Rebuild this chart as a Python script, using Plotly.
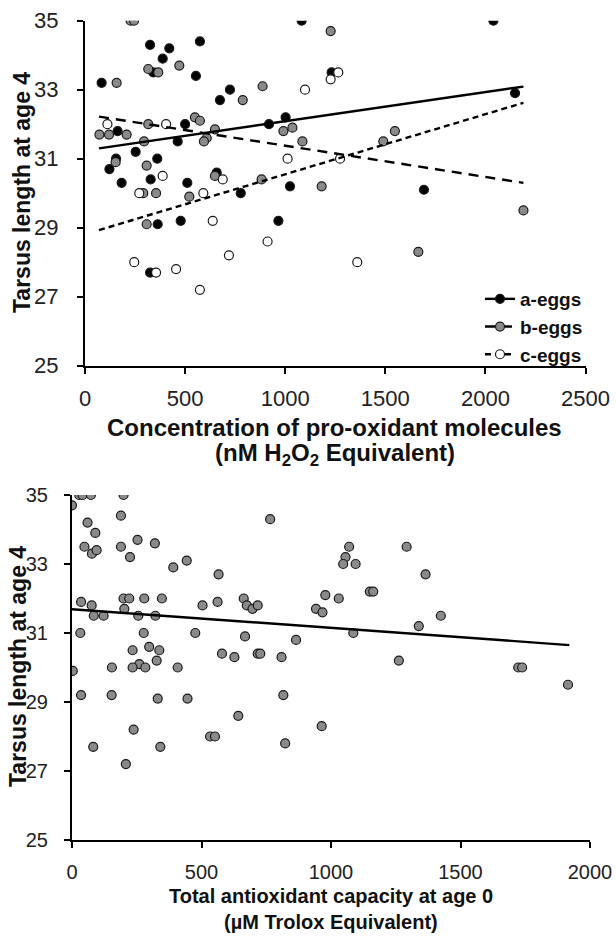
import plotly.graph_objects as go

# ---------------- Top panel data (pro-oxidant molecules) ----------------
a_x = [83, 325, 421, 388, 574, 341, 554, 1082, 724, 674, 163, 500, 463, 919, 1002,
       253, 155, 122, 361, 183, 328, 511, 658, 778, 1024, 363, 478, 966, 325, 1232,
       2040, 2148, 1693]
a_y = [33.2, 34.3, 34.2, 33.9, 34.4, 33.5, 33.4, 35.0, 33.0, 32.7, 31.8, 32.0, 31.5, 32.0, 32.2,
       31.2, 31.0, 30.7, 31.0, 30.3, 30.4, 30.3, 30.6, 30.0, 30.2, 29.1, 29.2, 29.2, 27.7, 33.5,
       35.0, 32.9, 30.1]

b_x = [228, 245, 158, 316, 366, 471, 887, 788, 1227, 72, 120, 208, 316, 549, 574,
       295, 608, 594, 649, 991, 1036, 1086, 153, 308, 649, 882, 1182, 291, 355, 521,
       308, 1548, 1490, 2190, 1665]
b_y = [35.0, 35.0, 33.2, 33.6, 33.5, 33.7, 33.1, 32.7, 34.7, 31.7, 31.7, 31.7, 32.0, 32.2, 32.1,
       31.5, 31.6, 31.5, 31.85, 31.8, 31.9, 31.5, 30.9, 30.8, 30.5, 30.4, 30.2, 30.0, 30.0, 29.9,
       29.1, 31.8, 31.5, 29.5, 28.3]

c_x = [112, 405, 388, 688, 271, 591, 1012, 1099, 1227, 1265, 1274, 638, 912, 719, 246,
       355, 455, 574, 1360]
c_y = [32.0, 32.0, 30.5, 30.4, 30.0, 30.0, 31.0, 33.0, 33.3, 33.5, 31.0, 29.2, 28.6, 28.2, 28.0,
       27.7, 27.8, 27.2, 28.0]

top_line_x = [70, 2190]
a_line_y = [31.30, 33.09]
b_line_y = [32.22, 30.30]
c_line_y = [28.93, 32.62]

top_xticks = [0, 500, 1000, 1500, 2000, 2500]
yticks = [25, 27, 29, 31, 33, 35]
series_names = ["a-eggs", "b-eggs", "c-eggs"]

# ---------------- Bottom panel data (antioxidant capacity) ----------------
t_x = [28, 41, 73, 199, 0, 60, 189, 90, 48, 77, 95, 189, 224, 253, 320, 391, 443, 566, 765,
       35, 76, 84, 122, 199, 221, 202, 279, 347, 256, 322, 504, 562, 663, 675, 697, 717,
       942, 967, 978, 1030, 32, 277, 476, 668, 865, 234, 298, 337, 327, 260, 234, 283, 154,
       408, 579, 627, 717, 727, 809, 3, 35, 153, 331, 446, 816, 642, 238, 533, 552, 964,
       82, 341, 823, 208, 1070, 1056, 1047, 1095, 1292, 1365, 1150, 1163, 1424, 1339,
       1086, 1262, 1723, 1738, 1915]
t_y = [35.0, 35.0, 35.0, 35.0, 34.7, 34.2, 34.4, 33.9, 33.5, 33.3, 33.4, 33.5, 33.2, 33.7, 33.6, 32.9, 33.1, 32.7, 34.3,
       31.9, 31.8, 31.5, 31.5, 32.0, 32.0, 31.7, 32.0, 32.0, 31.5, 31.5, 31.8, 31.9, 32.0, 31.8, 31.7, 31.8,
       31.7, 31.6, 32.1, 32.0, 31.0, 31.0, 31.0, 30.9, 30.8, 30.5, 30.6, 30.5, 30.2, 30.1, 30.0, 30.0, 30.0,
       30.0, 30.4, 30.3, 30.4, 30.4, 30.3, 29.9, 29.2, 29.2, 29.1, 29.1, 29.2, 28.6, 28.2, 28.0, 28.0, 28.3,
       27.7, 27.7, 27.8, 27.2, 33.5, 33.2, 33.0, 33.0, 33.5, 32.7, 32.2, 32.2, 31.5, 31.2,
       31.0, 30.2, 30.0, 30.0, 29.5]
bot_line_x = [0, 1920]
bot_line_y = [31.69, 30.65]
bot_xticks = [0, 500, 1000, 1500, 2000]

FONT = "Liberation Sans, Arial, sans-serif"
GRAY = "#8a8a8a"
EDGE = "#1a1a1a"

fig = go.Figure()

styles = [
    dict(fill="black", dash="solid"),
    dict(fill=GRAY, dash="10px,7px"),
    dict(fill="white", dash="6px,4px"),
]
xs = [a_x, b_x, c_x]
ys = [a_y, b_y, c_y]
lines = [a_line_y, b_line_y, c_line_y]

for i in range(3):
    fig.add_trace(go.Scatter(
        x=xs[i], y=ys[i], mode="markers", xaxis="x", yaxis="y", showlegend=False,
        marker=dict(size=9, color=styles[i]["fill"], line=dict(color=EDGE, width=1.2))))
for i in range(3):
    fig.add_trace(go.Scatter(
        x=top_line_x, y=lines[i], mode="lines", xaxis="x", yaxis="y", showlegend=False,
        line=dict(color="black", width=2.4, dash=styles[i]["dash"])))
for i in range(3):
    fig.add_trace(go.Scatter(
        x=[None], y=[None], mode="lines+markers", xaxis="x", yaxis="y",
        name="<b>" + series_names[i] + "</b>",
        line=dict(color="black", width=2.4, dash=styles[i]["dash"]),
        marker=dict(size=9, color=styles[i]["fill"], line=dict(color=EDGE, width=1.2))))

fig.add_trace(go.Scatter(
    x=t_x, y=t_y, mode="markers", xaxis="x2", yaxis="y2", showlegend=False,
    marker=dict(size=9, color=GRAY, line=dict(color=EDGE, width=1.2))))
fig.add_trace(go.Scatter(
    x=bot_line_x, y=bot_line_y, mode="lines", xaxis="x2", yaxis="y2", showlegend=False,
    line=dict(color="black", width=2.4)))

W, H = 616, 938


def axis_style(size):
    return dict(showgrid=False, zeroline=False, showline=True, linecolor="black",
                linewidth=2, ticks="outside", ticklen=6, tickwidth=2, tickcolor="black",
                automargin=False,
                tickfont=dict(family=FONT, size=size, color="#222"))


fig.update_layout(
    width=W, height=H,
    margin=dict(l=0, r=0, t=0, b=0, autoexpand=False),
    paper_bgcolor="white", plot_bgcolor="white",
    font=dict(family=FONT, color="#111"),
    xaxis=dict(domain=[85 / W, 585.5 / W], range=[0, 2500], tickvals=top_xticks,
               anchor="y", ticklabelstandoff=6, **axis_style(22)),
    yaxis=dict(domain=[1 - 365.7 / H, 1 - 20.7 / H], range=[25, 35], tickvals=yticks,
               anchor="x", ticklabelstandoff=14, **axis_style(22)),
    xaxis2=dict(domain=[72 / W, 590 / W], range=[0, 2000], tickvals=bot_xticks,
                anchor="y2", ticklabelstandoff=7, **axis_style(20)),
    yaxis2=dict(domain=[1 - 840 / H, 1 - 495 / H], range=[25, 35], tickvals=yticks,
                anchor="x2", ticklabelstandoff=12, **axis_style(20)),
    legend=dict(x=588 / W, y=1 - 374 / H, xanchor="right", yanchor="bottom",
                bgcolor="rgba(0,0,0,0)", font=dict(family=FONT, size=19, color="#111"),
                tracegroupgap=0, itemwidth=30),
    showlegend=True,
)

annots = [
    dict(text="<b>Tarsus length at age 4</b>", x=22 / W, y=1 - 193 / H, textangle=-90, size=23),
    dict(text="<b>Concentration of pro-oxidant molecules</b>", x=335 / W, y=1 - 427 / H, textangle=0, size=24),
    dict(text="<b>(nM H<sub>2</sub>O<sub>2</sub> Equivalent)</b>", x=335 / W, y=1 - 454 / H, textangle=0, size=24),
    dict(text="<b>Tarsus length at age 4</b>", x=18 / W, y=1 - 667 / H, textangle=-90, size=23),
    dict(text="<b>Total antioxidant capacity at age 0</b>", x=331 / W, y=1 - 896 / H, textangle=0, size=20),
    dict(text="<b>(µM Trolox Equivalent)</b>", x=331 / W, y=1 - 922 / H, textangle=0, size=20),
]
for a in annots:
    sz = a.pop("size")
    fig.add_annotation(xref="paper", yref="paper", showarrow=False, xanchor="center",
                       yanchor="middle", font=dict(family=FONT, size=sz, color="#111"), **a)

fig.write_html("out.html",
               config={"displayModeBar": False},
               post_script="document.body.style.margin='0px';document.body.style.padding='0px';")
